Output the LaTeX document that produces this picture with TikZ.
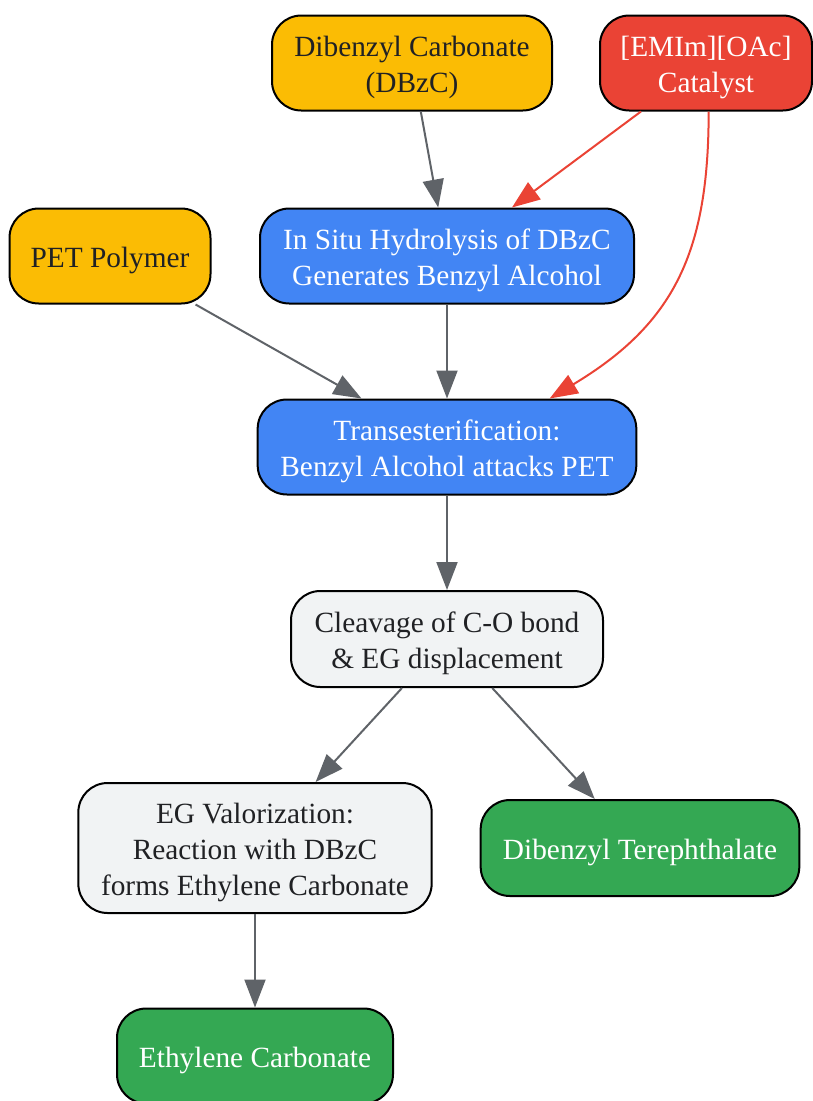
\documentclass[tikz,border=0pt]{standalone}
\usepackage{fontspec}
\setmainfont{Liberation Serif}
\usepackage{tikz}
\usetikzlibrary{arrows.meta}

\definecolor{gyellow}{HTML}{FBBC04}
\definecolor{gred}{HTML}{EA4335}
\definecolor{gblue}{HTML}{4285F4}
\definecolor{ggray}{HTML}{F1F3F4}
\definecolor{ggreen}{HTML}{34A853}
\definecolor{darktext}{HTML}{202124}
\definecolor{edgegray}{HTML}{5F6368}

% pushes the text a little lower in its box
\newcommand{\topstrut}{\rule{0pt}{21.5pt}}

\begin{document}
\begin{tikzpicture}[x=0.75pt,y=0.75pt,
	box/.style={draw=black,line width=1.5pt,rounded corners=22pt,minimum height=71.25pt,
		inner sep=0pt,align=center,font=\fontsize{22}{27}\selectfont},
	input/.style={box,fill=gyellow,text=darktext},
	catalyst/.style={box,fill=gred,text=white},
	process/.style={box,fill=gblue,text=white},
	stage/.style={box,fill=ggray,text=darktext},
	product/.style={box,fill=ggreen,text=white},
	flow/.style={draw=edgegray,line width=1.5pt,-{Triangle[length=21pt,width=15.75pt]}},
	catflow/.style={draw=gred,line width=1.5pt,-{Triangle[length=21pt,width=15.75pt]}}]
	\useasboundingbox (0,0) rectangle (813,-1101);

	\node[input,minimum width=210pt](dbzc) at (412,-63) {\topstrut Dibenzyl Carbonate\\(DBzC)};
	\node[catalyst,minimum width=159pt](cat) at (706,-63) {\topstrut [EMIm][OAc]\\Catalyst};
	\node[input,minimum width=150.75pt](pet) at (110,-256) {\topstrut PET Polymer};
	\node[process,minimum width=280.5pt](hydro) at (447,-256) {\topstrut In Situ Hydrolysis of DBzC\\Generates Benzyl Alcohol};
	\node[process,minimum width=284pt](trans) at (447,-447) {\topstrut Transesterification:\\Benzyl Alcohol attacks PET};
	\node[stage,minimum width=234pt,minimum height=72pt](cleave) at (447,-639) {\topstrut Cleavage of C-O bond\\\& EG displacement};
	\node[stage,minimum width=265pt,minimum height=97.5pt](egval) at (255,-848) {\topstrut EG Valorization:\\Reaction with DBzC\\forms Ethylene Carbonate};
	\node[product,minimum width=239pt,minimum height=72pt](dbt) at (640,-848) {\topstrut Dibenzyl Terephthalate};
	\node[product,minimum width=207pt](ec) at (255,-1056) {\topstrut Ethylene Carbonate};

	\draw[flow] (dbzc) -- (hydro);
	\draw[catflow] (cat) -- (hydro);
	\draw[flow] (pet) -- (trans);
	\draw[flow] (hydro) -- (trans);
	\draw[catflow] ([xshift=2pt]cat.south) .. controls +(0,-140) and +(125,75) .. ([xshift=77pt]trans.north);
	\draw[flow] (trans) -- (cleave);
	\draw[flow] (cleave) -- (egval);
	\draw[flow] (cleave) -- (dbt);
	\draw[flow] (egval) -- (ec);
\end{tikzpicture}
\end{document}
